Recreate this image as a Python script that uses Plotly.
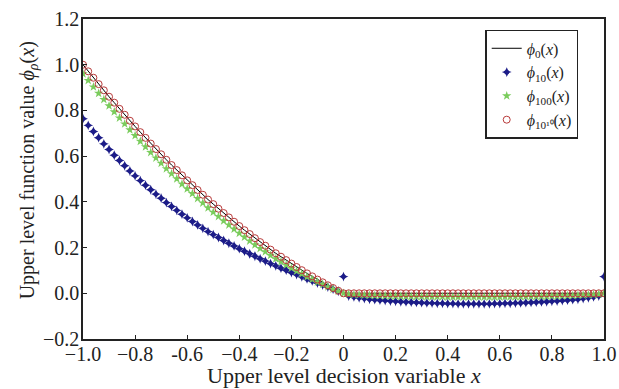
import numpy as np
import plotly.graph_objects as go

# sample grid: x = -1.00, -0.98, ..., 1.00
x = np.round(np.linspace(-1.0, 1.0, 101), 2)

# phi_0(x) and phi_{10^10}(x), x<0 part then x>0 part
phi_0_neg = [1.000, 0.971, 0.943, 0.915, 0.888, 0.860, 0.834, 0.807, 0.781, 0.755,
             0.730, 0.705, 0.680, 0.655, 0.631, 0.608, 0.584, 0.561, 0.539, 0.516,
             0.494, 0.473, 0.452, 0.431, 0.410, 0.390, 0.370, 0.351, 0.332, 0.313,
             0.294, 0.276, 0.259, 0.241, 0.224, 0.208, 0.191, 0.175, 0.160, 0.145,
             0.130, 0.115, 0.101, 0.087, 0.074, 0.060, 0.048, 0.035, 0.023, 0.011, 0.000]
phi_0_pos = [0.0] * 50
phi_0 = phi_0_neg + phi_0_pos
phi_1e10 = phi_0_neg + phi_0_pos

phi_10 = [0.764, 0.735, 0.708, 0.681, 0.654, 0.629, 0.604, 0.581, 0.558, 0.535,
          0.514, 0.493, 0.473, 0.453, 0.434, 0.416, 0.397, 0.380, 0.363, 0.346,
          0.330, 0.314, 0.299, 0.284, 0.270, 0.257, 0.244, 0.231, 0.219, 0.207,
          0.195, 0.184, 0.173, 0.162, 0.151, 0.141, 0.130, 0.120, 0.110, 0.101,
          0.091, 0.082, 0.072, 0.063, 0.054, 0.045, 0.036, 0.027, 0.018, 0.009,
          0.073,
          -0.012, -0.016, -0.020, -0.023, -0.026, -0.028, -0.030, -0.032, -0.034, -0.035,
          -0.037, -0.038, -0.039, -0.040, -0.041, -0.042, -0.043, -0.044, -0.044, -0.045,
          -0.045, -0.046, -0.046, -0.046, -0.046, -0.046, -0.046, -0.046, -0.045, -0.045,
          -0.044, -0.044, -0.043, -0.042, -0.041, -0.040, -0.039, -0.038, -0.037, -0.035,
          -0.034, -0.032, -0.030, -0.028, -0.026, -0.023, -0.020, -0.016, -0.012,
          0.073]

phi_100 = [0.960, 0.931, 0.903, 0.875, 0.848, 0.820, 0.794, 0.767, 0.741, 0.715,
           0.690, 0.665, 0.641, 0.616, 0.592, 0.569, 0.545, 0.523, 0.501, 0.478,
           0.457, 0.436, 0.415, 0.395, 0.374, 0.355, 0.336, 0.317, 0.299, 0.281,
           0.263, 0.246, 0.229, 0.212, 0.196, 0.182, 0.166, 0.151, 0.138, 0.124,
           0.110, 0.097, 0.085, 0.072, 0.061, 0.049, 0.039, 0.028, 0.018, 0.009,
           0.000,
           -0.004, -0.006, -0.007, -0.008, -0.009, -0.010, -0.010, -0.011, -0.012, -0.012,
           -0.013, -0.013, -0.014, -0.014, -0.014, -0.015, -0.015, -0.015, -0.015, -0.016,
           -0.016, -0.016, -0.016, -0.016, -0.016, -0.016, -0.016, -0.016, -0.016, -0.016,
           -0.015, -0.015, -0.015, -0.015, -0.014, -0.014, -0.014, -0.013, -0.013, -0.012,
           -0.012, -0.011, -0.010, -0.010, -0.009, -0.008, -0.007, -0.006, -0.004,
           0.000]

x_tickvals = [-1.0, -0.8, -0.6, -0.4, -0.2, 0.0, 0.2, 0.4, 0.6, 0.8, 1.0]
x_ticktext = ["\u22121.0", "\u22120.8", "-0.6", "\u22120.4", "\u22120.2", "0", "0.2", "0.4", "0.6", "0.8", "1.0"]
y_tickvals = [-0.2, 0.0, 0.2, 0.4, 0.6, 0.8, 1.0, 1.2]
y_ticktext = ["\u22120.2", "0.0", "0.2", "0.4", "0.6", "0.8", "1.0", "1.2"]

FONT = "Liberation Serif, Times New Roman, serif"
PHI = "\u03d5"

fig = go.Figure()
fig.add_trace(go.Scatter(x=x, y=phi_0, mode="lines", line=dict(color="black", width=1),
                         name=f"<i>{PHI}</i><sub>0</sub>(<i>x</i>)"))
fig.add_trace(go.Scatter(x=x, y=phi_10, mode="markers",
                         marker=dict(symbol="star-diamond", size=7, color="#1c1c88"),
                         name=f"<i>{PHI}</i><sub>10</sub>(<i>x</i>)"))
fig.add_trace(go.Scatter(x=x, y=phi_100, mode="markers",
                         marker=dict(symbol="star", size=7, color="#7acc5c"),
                         name=f"<i>{PHI}</i><sub>100</sub>(<i>x</i>)"))
fig.add_trace(go.Scatter(x=x, y=phi_1e10, mode="markers",
                         marker=dict(symbol="circle-open", size=7, color="#b83a3a",
                                     line=dict(width=1)),
                         name=f"<i>{PHI}</i><sub>10¹⁰</sub>(<i>x</i>)"))

fig.update_layout(
    width=619, height=389,
    margin=dict(l=83, r=15, t=19, b=50, autoexpand=False),
    paper_bgcolor="white", plot_bgcolor="white",
    font=dict(family=FONT, size=19, color="#222"),
    showlegend=True,
    legend=dict(x=0.772, y=0.966, xanchor="left", yanchor="top",
                bordercolor="#222", borderwidth=1.5, bgcolor="white",
                font=dict(family=FONT, size=16), tracegroupgap=0,
                itemwidth=30),
    annotations=[
        dict(text="Upper level decision variable <i>x</i>", xref="paper", yref="paper",
             x=0.5, y=-0.1125, xanchor="center", yanchor="middle", showarrow=False,
             font=dict(family=FONT, size=22, color="#222")),
        dict(text=f"Upper level function value <i>{PHI}</i><sub><i>ρ</i></sub>(<i>x</i>)",
             xref="paper", yref="paper", x=-0.105, y=0.528, xanchor="center",
             yanchor="middle", textangle=-90, showarrow=False,
             font=dict(family=FONT, size=20, color="#222")),
    ],
)
fig.update_xaxes(range=[-1.0, 1.0], tickvals=x_tickvals, ticktext=x_ticktext,
                 ticks="inside", ticklen=4, tickcolor="#222",
                 tickfont=dict(family=FONT, size=20), automargin=False,
                 ticklabelstandoff=-4,
                 showline=True, linecolor="#222", linewidth=1.5, mirror=True,
                 showgrid=False, zeroline=False)
fig.update_yaxes(range=[-0.2, 1.2], tickvals=y_tickvals, ticktext=y_ticktext,
                 ticks="inside", ticklen=4, tickcolor="#222",
                 tickfont=dict(family=FONT, size=20), automargin=False,
                 ticklabelstandoff=-2,
                 showline=True, linecolor="#222", linewidth=1.5, mirror=True,
                 showgrid=False, zeroline=False)

fig.write_html("out.html", config={"displayModeBar": False},
               post_script="document.body.style.margin='0px';")
